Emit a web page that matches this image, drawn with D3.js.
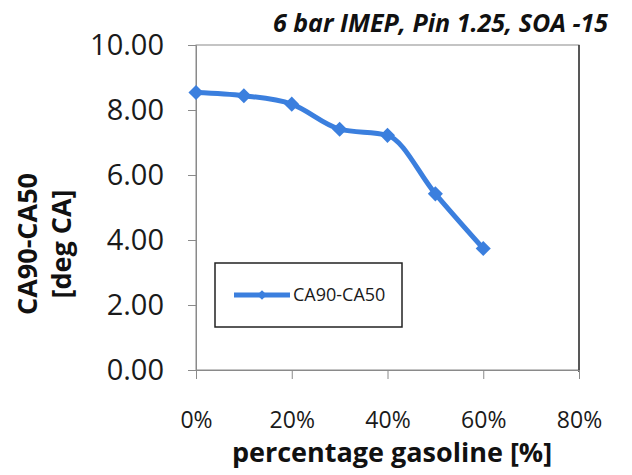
<!DOCTYPE html>
<html>
<head>
<meta charset="utf-8">
<script src="https://cdn.jsdelivr.net/npm/d3@7"></script>
<style>
  html, body { margin: 0; padding: 0; background: #fff; }
  svg { display: block; font-family: "Open Sans", Lato, sans-serif; }
</style>
</head>
<body>
<svg id="chart" width="632" height="475"></svg>
<script>
// Gasoline share (%) and burn duration CA90-CA50 (deg CA)
const gasolinePct = [0, 10, 20, 30, 40, 50, 60];
const ca90ca50 = [8.54, 8.44, 8.18, 7.41, 7.22, 5.42, 3.74];
const xTicks = [0, 20, 40, 60, 80];
const yTicks = [0, 2, 4, 6, 8, 10];
const seriesName = "CA90-CA50";
const chartTitle = "6 bar IMEP, Pin 1.25, SOA -15";

const blue = "#3b7fde";
const font = "'Open Sans', sans-serif";
const svg = d3.select("#chart");
const m = { left: 196, right: 579, top: 45, bottom: 370 };

const x = d3.scaleLinear().domain([0, 80]).range([m.left, m.right]);
const y = d3.scaleLinear().domain([0, 10]).range([m.bottom, m.top]);

// plot area frame
svg.append("rect")
  .attr("x", m.left).attr("y", m.top)
  .attr("width", m.right - m.left).attr("height", m.bottom - m.top)
  .attr("fill", "none").attr("stroke", "#8a8a8a").attr("stroke-width", 1);
svg.append("line")
  .attr("x1", m.right).attr("x2", m.right).attr("y1", m.top).attr("y2", m.bottom + 2)
  .attr("stroke", "#333").attr("stroke-width", 1.5);

// y axis
const yAxis = svg.append("g")
  .attr("transform", `translate(${m.left},0)`)
  .call(d3.axisLeft(y).tickValues(yTicks).tickSize(8).tickPadding(24)
    .tickFormat(d3.format(".2f")));
yAxis.select(".domain").attr("stroke", "#8a8a8a");
yAxis.selectAll(".tick line").attr("stroke", "#8a8a8a");
yAxis.selectAll(".tick text")
  .attr("font-size", 29).attr("fill", "#1a1a1a")
  .attr("font-family", font);

// x axis
const xAxis = svg.append("g")
  .attr("transform", `translate(0,${m.bottom})`)
  .call(d3.axisBottom(x).tickValues(xTicks).tickSize(9).tickPadding(33)
    .tickFormat(d => d + "%"));
xAxis.select(".domain").attr("stroke", "#8a8a8a");
xAxis.selectAll(".tick line").attr("stroke", "#8a8a8a");
xAxis.selectAll(".tick text")
  .attr("font-size", 23).attr("fill", "#1a1a1a")
  .attr("font-family", font);

// series line and diamond markers
const line = d3.line()
  .x((d, i) => x(gasolinePct[i]))
  .y(d => y(d))
  .curve(d3.curveMonotoneX);
svg.append("path")
  .datum(ca90ca50)
  .attr("d", line)
  .attr("fill", "none")
  .attr("stroke", blue)
  .attr("stroke-width", 5)
  .attr("stroke-linejoin", "round");

const diamond = d3.symbol().type(d3.symbolDiamond2).size(145);
svg.append("g").selectAll("path")
  .data(ca90ca50)
  .join("path")
  .attr("d", diamond)
  .attr("transform", (d, i) => `translate(${x(gasolinePct[i])},${y(d)})`)
  .attr("fill", blue);

// legend
const lg = svg.append("g");
lg.append("rect")
  .attr("x", 215).attr("y", 263).attr("width", 187).attr("height", 64)
  .attr("fill", "#fff").attr("stroke", "#222").attr("stroke-width", 1.5);
lg.append("line")
  .attr("x1", 234).attr("x2", 290).attr("y1", 295).attr("y2", 295)
  .attr("stroke", blue).attr("stroke-width", 5);
lg.append("path")
  .attr("d", d3.symbol().type(d3.symbolDiamond2).size(60))
  .attr("transform", "translate(262,295)")
  .attr("fill", blue);
lg.append("text")
  .attr("x", 293).attr("y", 301)
  .attr("font-size", 18).attr("fill", "#1a1a1a")
  .text(seriesName);

// title
svg.append("text")
  .attr("x", 608).attr("y", 32)
  .attr("text-anchor", "end")
  .attr("font-size", 25).attr("font-weight", "bold").attr("font-style", "italic")
  .attr("fill", "#111")
  .text(chartTitle);

// axis titles
svg.append("text")
  .attr("x", 392).attr("y", 462)
  .attr("text-anchor", "middle")
  .attr("font-size", 27).attr("font-weight", "bold").attr("fill", "#111")
  .text("percentage gasoline [%]");

const yt = svg.append("text")
  .attr("transform", "translate(37,244) rotate(-90)")
  .attr("text-anchor", "middle")
  .attr("font-size", 27).attr("font-weight", "bold").attr("fill", "#111");
yt.append("tspan").attr("x", 0).attr("dy", 0).text(seriesName);
yt.append("tspan").attr("x", 0).attr("dy", 34).text("[deg CA]");
</script>
</body>
</html>
